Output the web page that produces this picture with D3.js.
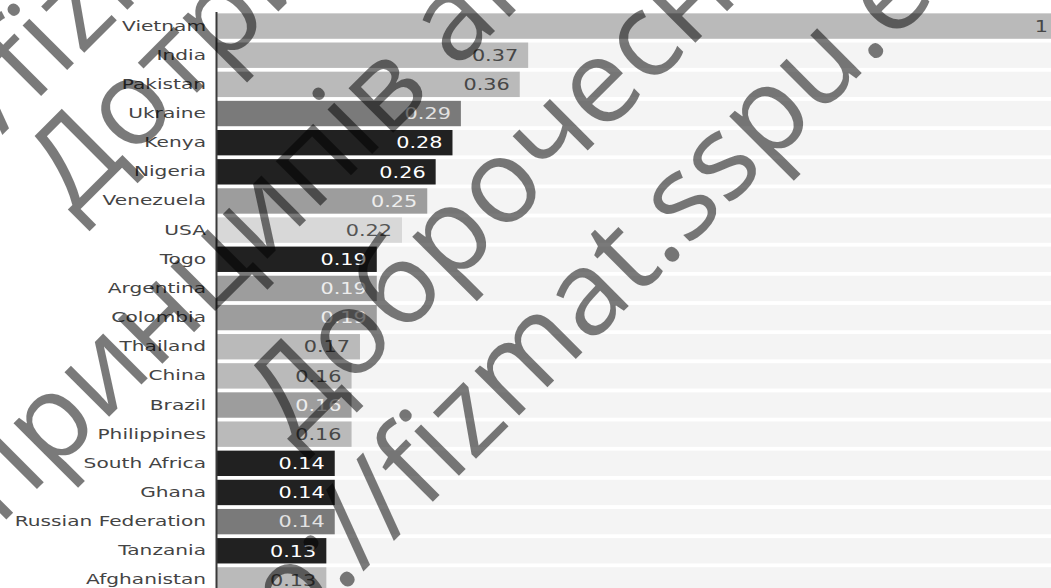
<!DOCTYPE html>
<html><head><meta charset="utf-8">
<script src="https://cdn.jsdelivr.net/npm/d3@7"></script>
<style>html,body{margin:0;padding:0;background:#fff;overflow:hidden}</style>
</head><body>
<svg id="chart" width="1051" height="588"></svg>
<script>
// ---- data ----
const categories = ["Vietnam","India","Pakistan","Ukraine","Kenya","Nigeria","Venezuela","USA","Togo","Argentina","Colombia","Thailand","China","Brazil","Philippines","South Africa","Ghana","Russian Federation","Tanzania","Afghanistan"];
const values = [1,0.37,0.36,0.29,0.28,0.26,0.25,0.22,0.19,0.19,0.19,0.17,0.16,0.16,0.16,0.14,0.14,0.14,0.13,0.13];
const regions = ["Asia","Asia","Asia","Europe","Africa","Africa","South America","North America","Africa","South America","South America","Asia","Asia","South America","Asia","Africa","Africa","Europe","Africa","Asia"];
const regionNames = ["Asia","Africa","Europe","South America","North America"];
const watermarkLines = ["http://fizmat.sspu.edu.ua","Дотримання","принципів академічної","Доброчесності","http://fizmat.sspu.edu.ua"];

// ---- layout ----
const W = 1051, H = 588;
const x0 = 217, xUnit = 841;
const svg = d3.select("#chart");
const rows = categories.map((c,i)=>({c, v: values[i], r: regions[i]}));

const x = d3.scaleLinear().domain([0,1]).range([x0, x0 + xUnit]);
const y = d3.scaleBand().domain(categories).range([11.5, 11.5 + 20*29.15]).paddingInner(0.13).paddingOuter(0.065);
const barColor = d3.scaleOrdinal().domain(regionNames).range(["#bababa","#212121","#7a7a7a","#9d9d9d","#d8d8d8"]);
const textColor = d3.scaleOrdinal().domain(regionNames).range(["#474747","#ffffff","#e2e2e2","#ededed","#555555"]);

// tracks
svg.append("g").selectAll("rect").data(rows).join("rect")
  .attr("x", x(0)).attr("width", W - x(0))
  .attr("y", d=>y(d.c)).attr("height", y.bandwidth())
  .attr("fill", "#f4f4f4");

// bars
svg.append("g").selectAll("rect").data(rows).join("rect")
  .attr("x", x(0)).attr("width", d=>x(d.v) - x(0))
  .attr("y", d=>y(d.c)).attr("height", y.bandwidth())
  .attr("fill", d=>barColor(d.r));

// value labels
const vs = 1.3;
svg.append("g").selectAll("text").data(rows).join("text")
  .attr("transform", d=>`translate(${x(d.v) - 10},${y(d.c) + y.bandwidth()/2}) scale(${vs},1)`)
  .attr("text-anchor","end").attr("dy","0.36em")
  .attr("font-family","DejaVu Sans").attr("font-size",16)
  .attr("fill", d=>textColor(d.r))
  .text(d=>String(d.v));

// axis
const ls = 1.44;
const ax = svg.append("g").attr("transform", `translate(${x0 - 1},0)`)
  .call(d3.axisLeft(y).tickSize(0).tickSizeOuter(0).tickPadding(0));
ax.select(".domain").attr("stroke","#3a3a3a").attr("stroke-width",2);
ax.selectAll(".tick text")
  .attr("x", -10/ls).attr("transform", `scale(${ls},1)`)
  .attr("font-family","DejaVu Sans").attr("font-size",14).attr("fill","#444");

// watermark
const ang = 45 * Math.PI/180;
const u = [Math.cos(ang), -Math.sin(ang)], n = [Math.sin(ang), Math.cos(ang)];
const wmAlong = [-398,-101,-373,-108,-408];
const wmNormal = [97,205,372,522,661];
svg.append("g").selectAll("text").data(watermarkLines).join("text")
  .attr("transform",(d,i)=>{
    const px = wmAlong[i]*u[0] + wmNormal[i]*n[0];
    const py = wmAlong[i]*u[1] + wmNormal[i]*n[1];
    return `translate(${px},${py}) rotate(-45)`;
  })
  .attr("font-family","Open Sans").attr("font-size",118)
  .attr("fill","#000").attr("fill-opacity",0.52)
  .text(d=>d);
</script>
</body></html>
